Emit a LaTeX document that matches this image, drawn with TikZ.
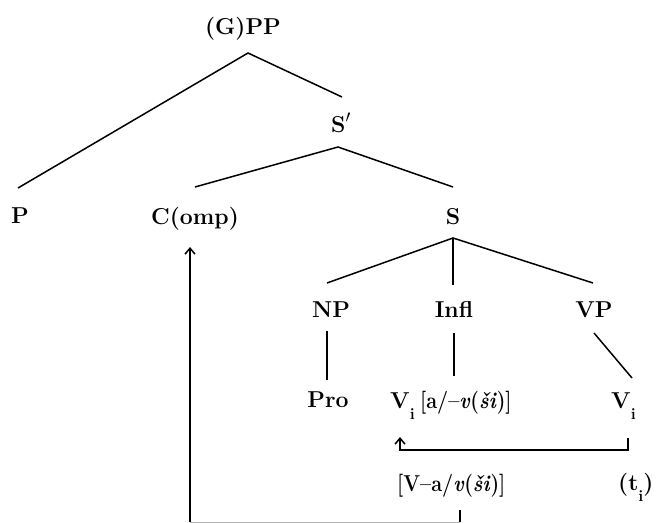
\documentclass[tikz,border=0pt]{standalone}
\usetikzlibrary{calc,arrows.meta}
\newcommand{\lowsub}[1]{\raisebox{-11pt}{\fontsize{16}{16}\selectfont\bfseries #1}}
\newcommand{\narrow}[1]{\scalebox{0.86}[1]{#1}}
\begin{document}
\begin{tikzpicture}[x=1pt,y=-1pt,
  lbl/.style={inner sep=0pt,font=\fontsize{23}{27}\selectfont\bfseries},
  edge/.style={line width=1.5pt},
  mv/.style={line width=1.5pt,-{Straight Barb[length=6pt,width=10pt]}}]
\useasboundingbox (0,0) rectangle (666,522);
% nodes
\node[lbl,anchor=base] (gpp) at (243,34) {(G)PP};
\node[lbl,anchor=base] (sbar) at (341,132) {S$'$};
\node[lbl,anchor=base] (p) at (20,223) {P};
\node[lbl,anchor=base] (comp) at (195,224) {C(omp)};
\node[lbl,anchor=base] (s) at (453,224) {S};
\node[lbl,anchor=base] (np) at (331,317) {NP};
\node[lbl,anchor=base] (infl) at (454,317) {Infl};
\node[lbl,anchor=base] (vp) at (594,317) {VP};
\node[lbl,anchor=base] (pro) at (328,407) {Pro};
\node[lbl,anchor=base west] (vl) at (390,408) {V\lowsub{i}};
\node[lbl,anchor=base west] (br1) at (420,408) {\narrow{[a/--\textit{v}(\textit{ši})]}};
\node[lbl,anchor=base west] (vr) at (611,408) {V\lowsub{i}};
\node[lbl,anchor=base west] (br2) at (397,491) {\narrow{[V--a/\textit{v}(\textit{ši})]}};
\node[lbl,anchor=base west] (tr) at (618,490) {(t\lowsub{i})};
\coordinate (bot) at (190,522);
\coordinate (tickt) at (460,510);
\coordinate (tickb) at (460,522);
% tree edges
\draw[edge] ($(p.base)+(-2,-35)$) -- ($(gpp.base)+(5,19)$) -- ($(sbar.base)+(1,-35)$);
\draw[edge] ($(comp.base)+(0,-37)$) -- ($(sbar.base)+(-3,15)$) -- ($(s.base)+(0,-37)$);
\draw[edge] ($(np.base)+(-4,-34)$) -- ($(s.base)+(0,14)$) -- ($(vp.base)+(-1,-34)$);
\draw[edge] ($(s.base)+(0,14)$) -- ($(infl.base)+(-1,-32)$);
\draw[edge] ($(np.base)+(-4,14)$) -- ($(pro.base)+(-1,-27)$);
\draw[edge] ($(infl.base)+(0,16)$) -- ($(br1.base west)+(34,-32)$);
\draw[edge] ($(vp.base)+(0,16)$) -- ($(vr.base west)+(21,-30)$);
% movement arrows
\draw[mv] ($(vr.base west)+(17,30)$) -- ($(vr.base west)+(17,42)$) -| ($(vl.base west)+(10,29)$);
\draw[mv] (bot) -- ($(comp.base)+(-5,23)$);
\draw[edge] (tickt) -- (tickb);
\draw[line width=0.5pt,gray!60] (bot) -- (tickb);
\end{tikzpicture}
\end{document}
